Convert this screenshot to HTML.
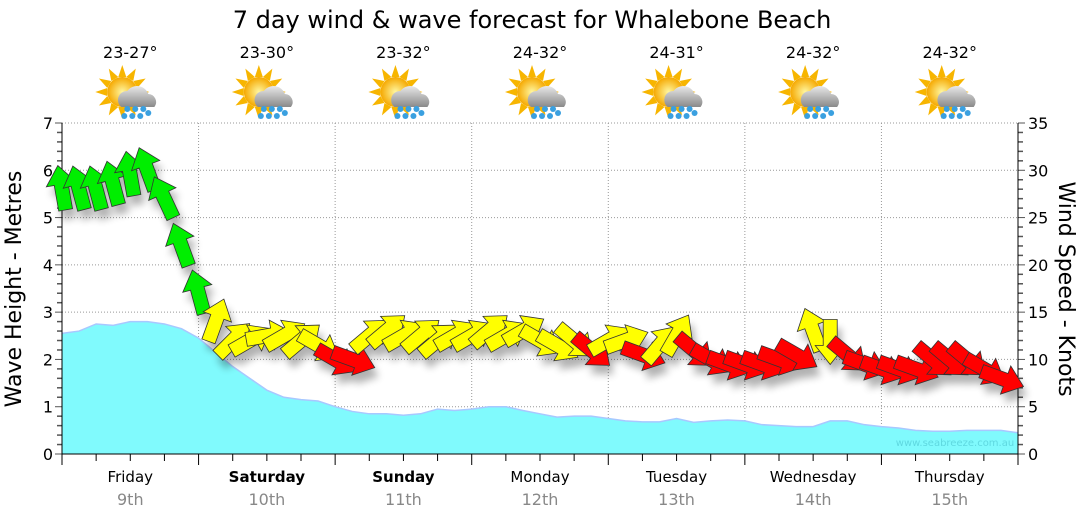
<!DOCTYPE html>
<html><head><meta charset="utf-8"><style>
body{margin:0;background:#fff;width:1080px;height:522px;overflow:hidden}
svg text{font-family:"DejaVu Sans","Liberation Sans",sans-serif}
</style></head><body>
<svg id="c" width="1080" height="522" xmlns="http://www.w3.org/2000/svg">
<defs>
<radialGradient id="sun" cx="50%" cy="50%" r="50%"><stop offset="0" stop-color="#fff7a0"/><stop offset="1" stop-color="#f5a800"/></radialGradient>
<linearGradient id="cl" x1="0" y1="0" x2="0" y2="1"><stop offset="0" stop-color="#e8e8e8"/><stop offset="1" stop-color="#8a8a8a"/></linearGradient>
<filter id="sh" x="-50%" y="-50%" width="200%" height="200%"><feGaussianBlur stdDeviation="4"/></filter>
</defs>
<text x="532" y="28" font-size="24" text-anchor="middle" fill="#000">7 day wind &amp; wave forecast for Whalebone Beach</text>
<g id="grid"></g><g id="wave"></g><g id="axes"></g><g id="shadow" filter="url(#sh)" opacity="0.3"></g><g id="wind"></g><g id="wx"></g>
<text x="955" y="446" font-size="10" fill="#5fd8e0" text-anchor="middle">www.seabreeze.com.au</text>
<text transform="translate(21,289) rotate(-90)" font-size="22" text-anchor="middle">Wave Height - Metres</text>
<text transform="translate(1059,289) rotate(90)" font-size="22" text-anchor="middle">Wind Speed - Knots</text>
</svg>
<script>
const days=["Friday","Saturday","Sunday","Monday","Tuesday","Wednesday","Thursday"];
const dates=["9th","10th","11th","12th","13th","14th","15th"];
const temps=["23-27°","23-30°","23-32°","24-32°","24-31°","24-32°","24-32°"];
const boldDays=[false,true,true,false,false,false,false];
const waveHeights=[2.55,2.6,2.75,2.72,2.8,2.8,2.75,2.65,2.45,2.15,1.85,1.6,1.35,1.2,1.15,1.12,1.0,0.9,0.85,0.85,0.82,0.85,0.95,0.92,0.95,1.0,1.0,0.92,0.85,0.78,0.8,0.8,0.75,0.7,0.68,0.68,0.75,0.67,0.7,0.72,0.7,0.62,0.6,0.58,0.58,0.7,0.7,0.62,0.58,0.55,0.5,0.48,0.48,0.5,0.5,0.5,0.45];
const windSpeed=[28,28,28,28.5,29.5,30,27,22,17,14,12,12,12.5,12.5,12,11.5,10,10,12.5,13,12.5,12.5,12,12.5,12.5,13,12.5,13,12,11.5,12,11,12,12,10.5,11.5,12.5,11,10,9.5,9.5,9.5,10,10.5,13,12,10.5,9.5,9,9,9,10,10,10,9,8];
const windDir=[-10,-15,-15,-15,-10,-20,-25,-20,-15,20,45,60,80,60,50,120,120,110,50,50,60,50,50,60,60,50,60,60,120,120,130,130,60,70,110,40,30,130,120,110,110,110,110,120,-20,180,130,110,110,110,110,130,130,130,120,110];
const leftTicks=[0,1,2,3,4,5,6,7];
const rightTicks=[0,5,10,15,20,25,30,35];
const X0=62,X1=1018,Y0=454,Y1=123,NS="http://www.w3.org/2000/svg";
const dayW=(X1-X0)/7;
const xHour=h=>X0+h/168*(X1-X0);
const yM=v=>Y0-v/7*(Y0-Y1);
const yK=v=>Y0-v/35*(Y0-Y1);
function mk(tag,parent,attrs){const e=document.createElementNS(NS,tag);for(const k in attrs)e.setAttribute(k,attrs[k]);parent.appendChild(e);return e;}
const grid=document.getElementById('grid'),axes=document.getElementById('axes');
leftTicks.forEach(v=>{if(v>0){const l=mk('line',grid,{x1:X0,x2:X1,y1:yM(v),y2:yM(v),stroke:'#999','stroke-dasharray':'1,2'});

}
const t=mk('text',axes,{x:X0-9,y:yM(v)+6,'font-size':16,'text-anchor':'end',fill:'#000'});t.textContent=v;

});
for(let i=0;i<=35;i++){const y=yM(i/5);mk('line',axes,{x1:X0-(i%5?5:7),x2:X0,y1:y,y2:y,stroke:'#555','stroke-width':i%5?1.5:1});}
rightTicks.forEach(v=>{const t=mk('text',axes,{x:X1+10,y:yK(v)+6,'font-size':16,fill:'#000'});t.textContent=v;

});
for(let i=0;i<=35;i++){const y=yK(i);mk('line',axes,{x1:X1,x2:X1+(i%5?5:7),y1:y,y2:y,stroke:'#555','stroke-width':i%5?1.5:1});}
for(let d=1;d<7;d++){const x=X0+d*dayW;const l=mk('line',grid,{x1:x,x2:x,y1:Y1,y2:Y0,stroke:'#999','stroke-dasharray':'1,2'});

}
for(let h=0;h<=168;h+=6){const x=xHour(h);mk('line',axes,{x1:x,x2:x,y1:Y0,y2:Y0+(h%24?7:11),stroke:'#000'});}
mk('line',axes,{x1:X0,x2:X0,y1:Y1,y2:Y0,stroke:'#000'});
mk('line',axes,{x1:X1,x2:X1,y1:Y1,y2:Y0,stroke:'#000'});
mk('line',axes,{x1:X0,x2:X1,y1:Y0,y2:Y0,stroke:'#000'});
days.forEach((d,i)=>{const cx=X0+(i+0.5)*dayW;
const t=mk('text',axes,{x:cx,y:482,'font-size':15,'text-anchor':'middle','font-weight':boldDays[i]?'bold':'normal'});t.textContent=d;


const t2=mk('text',axes,{x:cx,y:505,'font-size':16,'text-anchor':'middle',fill:'#888'});t2.textContent=dates[i];


const t3=mk('text',axes,{x:cx,y:58,'font-size':16,'text-anchor':'middle'});t3.textContent=temps[i];


const g=mk('g',document.getElementById('wx'),{transform:`translate(${cx},96)`});


for(let r=0;r<12;r++){const a=r*30;mk('polygon',g,{points:'-4,-15 0,-27 4,-15',fill:'#f7b500',transform:`translate(-8,-4) rotate(${a})`});}
mk('circle',g,{cx:-8,cy:-4,r:15,fill:'url(#sun)'});
mk('path',g,{d:'M-9,11 a9,9 0 0 1 6,-16 a12,12 0 0 1 21,3 a8,8 0 0 1 6,13 z',fill:'url(#cl)'});
[[-3,13],[5,13],[13,13],[-6,20],[2,20],[10,20],[18,17]].forEach(p=>mk('circle',g,{cx:p[0],cy:p[1],r:3,fill:'#3aa0e0'}));
});
// wave area
const wg=document.getElementById('wave');
const step=168/(waveHeights.length-1);
let d=`M${X0},${Y0}`;waveHeights.forEach((v,i)=>d+=` L${xHour(i*step)},${yM(v)}`);d+=` L${X1},${Y0} Z`;
const wa=mk('path',wg,{d:d,fill:'#80fafd'});


let dl='';waveHeights.forEach((v,i)=>dl+=(i?' L':'M')+xHour(i*step)+','+yM(v));
mk('path',wg,{d:dl,fill:'none',stroke:'#a8c8ff','stroke-width':1.5});
// wind arrows
const wind=document.getElementById('wind'),sh=document.getElementById('shadow');
const arrowPts='0,-24 15,-5 7,-5 7,21 -7,21 -7,-5 -15,-5';
windSpeed.forEach((s,i)=>{const x=xHour(i*3),y=yK(s);
const col=s>=15?'#00ee00':(s>=11.5?'#ffff00':'#ff0000');
mk('polygon',sh,{points:arrowPts,fill:'#000',transform:`translate(${x+4},${y+9}) rotate(${windDir[i]})`});
const a=mk('polygon',wind,{points:arrowPts,fill:col,stroke:'#333','stroke-width':0.8,transform:`translate(${x},${y}) rotate(${windDir[i]})`});


});
</script>
</body></html>
